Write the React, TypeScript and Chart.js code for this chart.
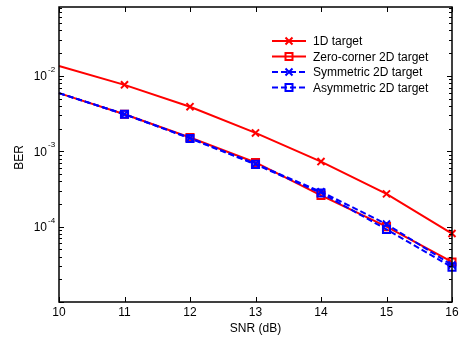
import React, { useEffect, useRef } from "react";
import { Chart, registerables } from "chart.js";

Chart.register(...registerables);

const snr = [10, 11, 12, 13, 14, 15, 16];
const ber1D = [0.0135, 0.0076, 0.0039, 0.00175, 0.00073, 0.000272, 0.000081];
const berZeroCorner = [0.0059, 0.0031, 0.00152, 0.00071, 0.00026, 0.0001, 0.000034];
const berSymmetric = [0.0059, 0.0031, 0.0015, 0.00068, 0.00029, 0.000108, 0.000031];
const berAsymmetric = [0.0059, 0.0031, 0.00148, 0.00067, 0.00028, 0.000092, 0.000029];
const seriesLabels = ["1D target", "Zero-corner 2D target", "Symmetric 2D target", "Asymmetric 2D target"];
const xTicks = [10, 11, 12, 13, 14, 15, 16];
const yMajorTicks = [1e-2, 1e-3, 1e-4];
const yTickExponents = ["-2", "-3", "-4"];
const xTitle = "SNR (dB)";
const yTitle = "BER";

const RED = "#ff0000";
const BLUE = "#0000ff";
const FONT = "Liberation Sans, Arial, sans-serif";

const legendStyles = [
  { color: RED, dash: [] as number[], marker: "x" },
  { color: RED, dash: [] as number[], marker: "s" },
  { color: BLUE, dash: [6, 3], marker: "x" },
  { color: BLUE, dash: [6, 3], marker: "s" },
];

function drawMarker(ctx: CanvasRenderingContext2D, kind: string, x: number, y: number, color: string) {
  ctx.save();
  ctx.setLineDash([]);
  ctx.strokeStyle = color;
  ctx.lineWidth = 2;
  ctx.beginPath();
  if (kind === "x") {
    const d = 3.5;
    ctx.moveTo(x - d, y - d);
    ctx.lineTo(x + d, y + d);
    ctx.moveTo(x - d, y + d);
    ctx.lineTo(x + d, y - d);
  } else {
    ctx.rect(x - 3.5, y - 3.5, 7, 7);
  }
  ctx.stroke();
  ctx.restore();
}

const axesPlugin = {
  id: "matlabAxes",
  afterDraw(chart: any) {
    const ctx: CanvasRenderingContext2D = chart.ctx;
    const { left, right, top, bottom } = chart.chartArea;
    const xs = chart.scales.x;
    const ys = chart.scales.y;
    ctx.save();
    ctx.strokeStyle = "#000";
    ctx.lineWidth = 1.5;
    ctx.setLineDash([]);
    ctx.strokeRect(left, top, right - left, bottom - top);

    ctx.lineWidth = 1;
    // x ticks
    xTicks.forEach((v) => {
      const px = Math.round(xs.getPixelForValue(v)) + 0.5;
      ctx.beginPath();
      ctx.moveTo(px, bottom);
      ctx.lineTo(px, bottom - 5);
      ctx.moveTo(px, top);
      ctx.lineTo(px, top + 5);
      ctx.stroke();
    });
    // y ticks (major + minor)
    for (let d = -5; d <= -1; d++) {
      for (let k = 1; k <= 9; k++) {
        const v = k * Math.pow(10, d);
        if (v < ys.min * 0.999 || v > ys.max) continue;
        const py = Math.round(ys.getPixelForValue(v)) + 0.5;
        const len = k === 1 ? 5 : 3;
        ctx.beginPath();
        ctx.moveTo(left, py);
        ctx.lineTo(left + len, py);
        ctx.moveTo(right, py);
        ctx.lineTo(right - len, py);
        ctx.stroke();
      }
    }

    ctx.fillStyle = "#000";
    ctx.font = `12px ${FONT}`;
    ctx.textAlign = "center";
    ctx.textBaseline = "middle";
    xTicks.forEach((v) => {
      ctx.fillText(String(v), xs.getPixelForValue(v), bottom + 11);
    });
    ctx.fillText(xTitle, (left + right) / 2, bottom + 27);

    yMajorTicks.forEach((v, i) => {
      const py = ys.getPixelForValue(v);
      ctx.font = `12px ${FONT}`;
      ctx.textAlign = "right";
      ctx.textBaseline = "middle";
      ctx.fillText("10", left - 12, py + 1);
      ctx.font = `8px ${FONT}`;
      ctx.textAlign = "left";
      ctx.fillText(yTickExponents[i], left - 11, py - 6);
    });

    ctx.save();
    ctx.font = `12px ${FONT}`;
    ctx.textAlign = "center";
    ctx.textBaseline = "middle";
    ctx.translate(20, (top + bottom) / 2 + 3);
    ctx.rotate(-Math.PI / 2);
    ctx.fillText(yTitle, 0, 0);
    ctx.restore();

    // legend
    const lx0 = 272;
    const lx1 = 306;
    const ly0 = 41;
    const dy = 15.5;
    seriesLabels.forEach((label, i) => {
      const st = legendStyles[i];
      const y = ly0 + i * dy;
      ctx.save();
      ctx.strokeStyle = st.color;
      ctx.lineWidth = 2;
      ctx.setLineDash(st.dash);
      ctx.beginPath();
      ctx.moveTo(lx0, y);
      ctx.lineTo(lx1, y);
      ctx.stroke();
      ctx.restore();
      drawMarker(ctx, st.marker, (lx0 + lx1) / 2, y, st.color);
      ctx.fillStyle = "#000";
      ctx.font = `12px ${FONT}`;
      ctx.textAlign = "left";
      ctx.textBaseline = "middle";
      ctx.fillText(label, 313, y + 1);
    });
    ctx.restore();
  },
};

export default function App() {
  const ref = useRef<HTMLCanvasElement | null>(null);
  useEffect(() => {
    if (!ref.current) return;
    const radii = snr.map((_, i) => (i === 0 ? 0 : 5));
    const mk = (data: number[], color: string, dash: number[], style: string, order: number) => ({
      data: snr.map((x, i) => ({ x, y: data[i] })),
      borderColor: color,
      backgroundColor: "rgba(0,0,0,0)",
      borderWidth: 2,
      borderDash: dash,
      pointStyle: style,
      pointRadius: radii,
      pointBorderColor: color,
      pointBackgroundColor: "rgba(0,0,0,0)",
      pointBorderWidth: 2,
      tension: 0,
      clip: false as any,
      order,
    });
    const chart = new Chart(ref.current, {
      type: "line",
      data: {
        datasets: [
          { label: seriesLabels[0], ...mk(ber1D, RED, [], "crossRot", 4) },
          { label: seriesLabels[1], ...mk(berZeroCorner, RED, [], "rect", 3) },
          { label: seriesLabels[2], ...mk(berSymmetric, BLUE, [6, 3], "crossRot", 2) },
          { label: seriesLabels[3], ...mk(berAsymmetric, BLUE, [6, 3], "rect", 1) },
        ] as any,
      },
      options: {
        animation: false,
        responsive: false,
        events: [],
        layout: { padding: { left: 59, top: 6, right: 9, bottom: 39 } },
        plugins: { legend: { display: false }, tooltip: { enabled: false } },
        scales: {
          x: { type: "linear", min: 10, max: 16, display: false },
          y: { type: "logarithmic", min: 1e-5, max: 0.082, display: false },
        },
      },
      plugins: [axesPlugin],
    });
    return () => chart.destroy();
  }, []);
  return (
    <div style={{ position: "fixed", left: 0, top: 0, width: 461, height: 341, background: "#fff" }}>
      <canvas ref={ref} width={461} height={341} style={{ display: "block" }} />
    </div>
  );
}
